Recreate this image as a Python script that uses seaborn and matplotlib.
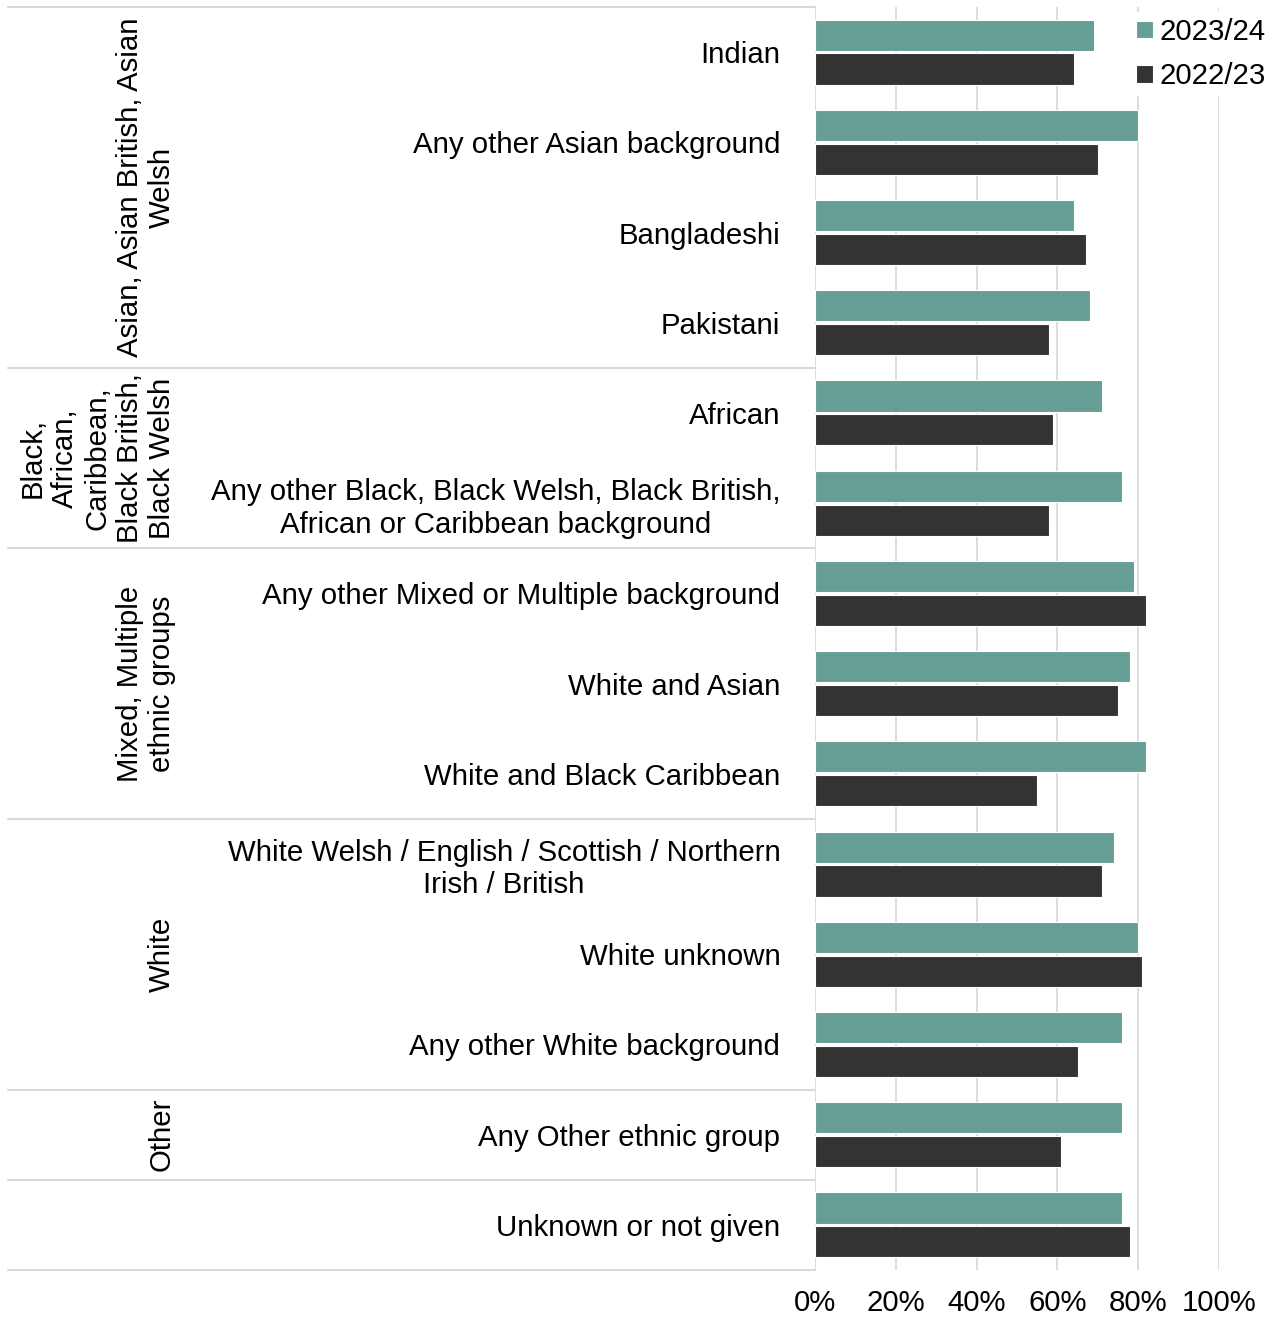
import matplotlib
matplotlib.use("Agg")
import matplotlib.pyplot as plt
import matplotlib.transforms as mtransforms
from matplotlib.ticker import PercentFormatter
import pandas as pd
import seaborn as sns

categories = [
    "Indian",
    "Any other Asian background",
    "Bangladeshi",
    "Pakistani",
    "African",
    "Any other Black, Black Welsh, Black British,\nAfrican or Caribbean background",
    "Any other Mixed or Multiple background",
    "White and Asian",
    "White and Black Caribbean",
    "White Welsh / English / Scottish / Northern\nIrish / British",
    "White unknown",
    "Any other White background",
    "Any Other ethnic group",
    "Unknown or not given",
]
values_2023_24 = [69, 80, 64, 68, 71, 76, 79, 78, 82, 74, 80, 76, 76, 76]
values_2022_23 = [64, 70, 67, 58, 59, 58, 82, 75, 55, 71, 81, 65, 61, 78]
years = ["2023/24", "2022/23"]
colors = ["#669e95", "#333333"]

group_labels = [
    "Asian, Asian British, Asian\nWelsh",
    "Black,\nAfrican,\nCaribbean,\nBlack British,\nBlack Welsh",
    "Mixed, Multiple\nethnic groups",
    "White",
    "Other",
    "",
]
group_sizes = [4, 2, 3, 3, 1, 1]

df = pd.DataFrame({
    "category": categories * 2,
    "year": [years[0]] * len(categories) + [years[1]] * len(categories),
    "value": values_2023_24 + values_2022_23,
})

sns.set_style("white")
plt.rcParams["font.family"] = ["Liberation Sans", "DejaVu Sans"]
plt.rcParams["text.color"] = "black"
fs = 21.2
grid_col = "#d9d9d9"

W, H = 1275, 1319
fig = plt.figure(figsize=(W / 100, H / 100), dpi=100)
ax = fig.add_axes([815 / W, 1 - 1270 / H, 404 / W, 1263 / H])

sns.barplot(data=df, y="category", x="value", hue="year", hue_order=years,
            order=categories, palette=colors, saturation=1, orient="h",
            width=0.75, gap=0.08, edgecolor="white", linewidth=0.8, ax=ax)

ax.set_xlim(0, 100)
ax.set_xticks(range(0, 101, 20))
ax.xaxis.set_major_formatter(PercentFormatter(decimals=0))
ax.set_ylim(len(categories) - 0.5, -0.5)
ax.grid(axis="x", color=grid_col, lw=1.3)
ax.grid(axis="y", visible=False)
ax.set_axisbelow(True)
for s in ax.spines.values():
    s.set_visible(False)
ax.tick_params(axis="y", length=0, pad=25, labelsize=fs, labelcolor="black")
ax.tick_params(axis="x", length=0, pad=14, labelsize=fs, labelcolor="black")
for t in ax.get_yticklabels():
    t.set_multialignment("center")
ax.set_xlabel("")
ax.set_ylabel("")

# group separators and group labels on the left
x_left = (8 - 815) / 404
trans = mtransforms.blended_transform_factory(fig.transFigure, ax.transData)
start = -0.5
ax.axhline(start, xmin=x_left, xmax=0, color=grid_col, lw=1.5, clip_on=False)
for label, n in zip(group_labels, group_sizes):
    end = start + n
    ax.axhline(end, xmin=x_left, xmax=0, color=grid_col, lw=1.5, clip_on=False)
    if label:
        ax.text(176 / W, (start + end) / 2, label, transform=trans, rotation=90,
                ha="right", va="center", multialignment="center", fontsize=fs,
                color="black")
    start = end

handles, labels = ax.get_legend_handles_labels()
leg = ax.legend(handles, labels, loc="upper right", bbox_to_anchor=(1272 / W, 1 - 12 / H),
                bbox_transform=fig.transFigure, frameon=True, facecolor="white",
                edgecolor="none", framealpha=1, fancybox=False, borderpad=0.2,
                borderaxespad=0, handlelength=0.55, handleheight=0.55,
                handletextpad=0.25, labelspacing=0.55, fontsize=fs)
for t in leg.get_texts():
    t.set_color("black")

fig.savefig("out.png", dpi=100)
